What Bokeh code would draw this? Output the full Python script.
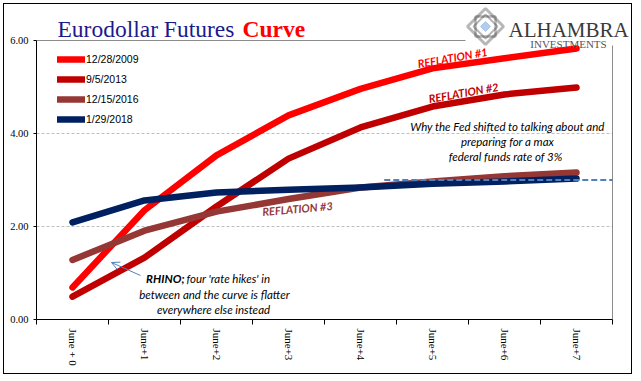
from bokeh.plotting import figure
from bokeh.models import (Range1d, FixedTicker, Label, Arrow, OpenHead, PolyAnnotation,
                          Legend, LegendItem)
from bokeh.embed import file_html
from bokeh.resources import INLINE

# ---------------- data ----------------
categories = ["June + 0", "June+1", "June+2", "June+3", "June+4", "June+5", "June+6", "June+7"]
series_names = ["12/28/2009", "9/5/2013", "12/15/2016", "1/29/2018"]
curve_2009 = [0.69, 2.35, 3.53, 4.39, 4.96, 5.40, 5.62, 5.83]
curve_2013 = [0.49, 1.33, 2.43, 3.46, 4.13, 4.58, 4.84, 4.99]
curve_2016 = [1.28, 1.91, 2.32, 2.59, 2.84, 2.97, 3.08, 3.16]
curve_2018 = [2.09, 2.56, 2.73, 2.79, 2.84, 2.92, 2.97, 3.03]
fed_max_rate = 3.0
fed_line_start = 4.83          # category-axis position where the 3% line begins
y_ticks = [0, 2, 4, 6]
y_grid = [2, 4]

colors = ["#FF0000", "#C00000", "#953735", "#002060"]

# ---------------- geometry (page pixels) ----------------
OFF = 4                       # canvas origin on the page (margin 3 + border 1)
W, H = 629, 371
FX0, FX1, FY0, FY1 = 36.0, 612.0, 40.0, 319.0   # where the 0..8 / 0..6 box sits on the page
N = len(categories)
YMAX = 6.0
def dx(px):
    return (px - FX0) / (FX1 - FX0) * N
def dy(py):
    return (FY1 - py) / (FY1 - FY0) * YMAX

p = figure(width=W, height=H, output_backend="svg", toolbar_location=None,
           x_range=Range1d(0, dx(W + OFF)), y_range=Range1d(0, dy(OFF)),
           min_border_left=int(FX0 - OFF), min_border_top=0, min_border_right=0,
           min_border_bottom=int(H + OFF - FY1), outline_line_color=None,
           background_fill_color="white", border_fill_color="white")
p.styles = {"border": "1px solid black", "margin": "3px"}

xs = [i + 0.5 for i in range(N)]

# axes
p.yaxis.ticker = FixedTicker(ticks=y_ticks)
p.yaxis.bounds = (0, YMAX)
p.yaxis.major_label_overrides = {t: f"{t:.2f}" for t in y_ticks}
p.yaxis.major_label_text_font = "Liberation Serif"
p.yaxis.major_label_text_font_size = "10.5px"
p.yaxis.major_label_text_color = "black"
p.yaxis.axis_line_color = "black"
p.yaxis.major_tick_line_color = "black"
p.yaxis.major_tick_out = 3
p.yaxis.major_tick_in = 0
p.yaxis.minor_tick_line_color = None
p.yaxis.major_label_standoff = 5

p.xaxis.ticker = FixedTicker(ticks=xs, minor_ticks=list(range(N + 1)))
p.xaxis.bounds = (0, N)
p.xaxis.major_label_overrides = {x: c for x, c in zip(xs, categories)}
p.xaxis.major_label_orientation = "vertical"
p.xaxis.major_label_text_font = "Liberation Serif"
p.xaxis.major_label_text_font_size = "11px"
p.xaxis.major_label_text_color = "black"
p.xaxis.major_tick_line_color = None
p.xaxis.minor_tick_line_color = "black"
p.xaxis.minor_tick_out = 5
p.xaxis.minor_tick_in = 0
p.xaxis.axis_line_color = "black"
p.xaxis.major_label_standoff = 3

p.xgrid.grid_line_color = None
p.ygrid.grid_line_color = None

# dashed gridlines limited to the 0..N box
for g in y_grid:
    p.add_layout(Arrow(end=None, x_start=0, y_start=g, x_end=N, y_end=g, level="underlay",
                       line_color="#bfbfbf", line_width=1, line_dash="3 2"))
# box top and right edges (gray), top interrupted by the logo
p.add_layout(Arrow(end=None, x_start=0, y_start=YMAX, x_end=dx(465), y_end=YMAX,
                   level="underlay", line_color="#8c8c8c", line_width=1))
p.add_layout(Arrow(end=None, x_start=N, y_start=0, x_end=N, y_end=dy(45),
                   level="underlay", line_color="#8c8c8c", line_width=1))

# series
renderers = []
for vals, c in zip([curve_2009, curve_2013, curve_2016, curve_2018], colors):
    r = p.line(xs, vals, line_color=c, line_width=6.5, line_cap="round", line_join="round")
    renderers.append(r)

# 3% reference dashed line
p.line([fed_line_start, N], [fed_max_rate, fed_max_rate],
       line_color="#4F81BD", line_width=2, line_dash="6 3")

legend = Legend(items=[LegendItem(label=n, renderers=[r]) for n, r in zip(series_names, renderers)],
                location=(21, 190), orientation="vertical",
                glyph_width=28, glyph_height=20, label_height=20, spacing=0,
                label_standoff=1, padding=0, margin=0,
                border_line_color=None, background_fill_alpha=0,
                label_text_font="Liberation Sans", label_text_font_size="10.5px",
                label_text_color="black")
p.add_layout(legend, "center")

# ---------------- title ----------------
p.add_layout(Label(x=dx(57), y=dy(28), text="Eurodollar Futures", text_font="Liberation Serif",
                   text_font_size="23.5px", text_color="#1a1a8c", text_baseline="alphabetic",
                   text_align="left"))
p.add_layout(Label(x=dx(242), y=dy(28), text="Curve", text_font="Liberation Serif",
                   text_font_size="23.5px", text_font_style="bold", text_color="#FF0000",
                   text_baseline="alphabetic", text_align="left"))

# ---------------- logo ----------------
cx, cy, hs = 485, 26, 18
def poly(pts, **kw):
    p.add_layout(PolyAnnotation(xs=[dx(a) for a, b in pts], ys=[dy(b) for a, b in pts], **kw))
poly([(cx, cy - hs), (cx + hs, cy), (cx, cy + hs), (cx - hs, cy)],
     fill_color="white", line_color="#111111", line_width=3)
s = 10
poly([(cx - s, cy - s), (cx + s, cy - s), (cx + s, cy + s), (cx - s, cy + s)],
     fill_color=None, line_color="#111111", line_width=2.5)
poly([(cx, cy - 12), (cx + 12, cy), (cx, cy + 12), (cx - 12, cy)],
     fill_color=None, line_color="#111111", line_width=2)
poly([(cx, cy - 5), (cx + 5, cy), (cx, cy + 5), (cx - 5, cy)],
     fill_color="#3f7fcf", line_color="#3f7fcf", line_width=1)
p.add_layout(Label(x=dx(508), y=dy(29), text="ALHAMBRA", text_font="Liberation Serif",
                   text_font_size="21px", text_color="#3a3a3a", text_baseline="alphabetic"))
p.add_layout(Label(x=dx(568), y=dy(43), text="INVESTMENTS", text_font="Liberation Serif",
                   text_font_size="11px", text_color="#555555", text_baseline="alphabetic",
                   text_align="center"))

# ---------------- annotations ----------------
def lab(x, y, t, **kw):
    base = dict(text_font="Lato", text_font_size="11.5px", text_align="center",
                text_baseline="middle", text_color="black")
    base.update(kw)
    p.add_layout(Label(x=dx(x), y=dy(y), text=t, **base))

lab(452, 57, "REFLATION #1", text_font_style="bold italic", text_color="#FF0000",
    angle=10, angle_units="deg", text_font_size="11px")
lab(463, 92, "REFLATION #2", text_font_style="bold italic", text_color="#C00000",
    angle=10, angle_units="deg", text_font_size="11px")
lab(297, 208, "REFLATION #3", text_font_style="bold italic", text_color="#953735",
    angle=5, angle_units="deg", text_font_size="11px")

lab(507, 126, "Why the Fed shifted to talking about and", text_font_style="italic")
lab(507, 141, "preparing for a max", text_font_style="italic")
lab(505, 156, "federal funds rate of 3%", text_font_style="italic")

lab(184, 278, "RHINO;", text_font_style="bold italic", text_align="right")
lab(186, 278, "four 'rate hikes' in", text_font_style="italic", text_align="left")
lab(214, 294, "between and the curve is flatter", text_font_style="italic")
lab(213, 309, "everywhere else instead", text_font_style="italic")

p.add_layout(Arrow(end=OpenHead(size=8, line_color="#4F81BD", line_width=1),
                   x_start=dx(140), y_start=dy(275), x_end=dx(111), y_end=dy(262),
                   line_color="#4F81BD", line_width=1))

open("out.html", "w").write(file_html(p, INLINE))
